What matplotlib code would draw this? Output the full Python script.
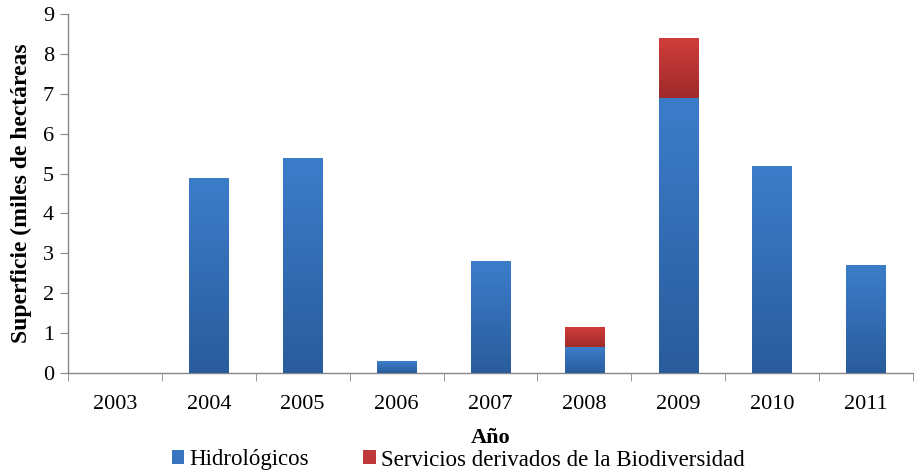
import matplotlib
matplotlib.use("Agg")
import matplotlib.pyplot as plt
import numpy as np
from matplotlib.colors import LinearSegmentedColormap
from matplotlib.patches import Patch

years = ["2003", "2004", "2005", "2006", "2007", "2008", "2009", "2010", "2011"]
hidrologicos = [0.0, 4.9, 5.4, 0.3, 2.8, 0.65, 6.9, 5.2, 2.7]
biodiversidad = [0.0, 0.0, 0.0, 0.0, 0.0, 0.5, 1.5, 0.0, 0.0]
series_names = ["Hidrológicos", "Servicios derivados de la Biodiversidad"]

plt.rcParams['font.family'] = ['Liberation Serif', 'DejaVu Serif']

fig = plt.figure(figsize=(9.16, 4.72), dpi=100)
ax = fig.add_axes([68/916, 99/472, 845/916, 359/472])

x = np.arange(len(years))
w = 0.42
b1 = ax.bar(x, hidrologicos, width=w, color="#3874c0", zorder=2)
b2 = ax.bar(x, biodiversidad, width=w, bottom=hidrologicos, color="#c0393a", zorder=2)

blue_cmap = LinearSegmentedColormap.from_list("b", ["#2a5c9c", "#3c7dca"])
red_cmap = LinearSegmentedColormap.from_list("r", ["#9e2b2a", "#d03d3b"])
grad = np.linspace(0, 1, 256).reshape(-1, 1)
for bars, cmap in ((b1, blue_cmap), (b2, red_cmap)):
    for p in bars:
        h = p.get_height()
        if h <= 0:
            continue
        x0, y0 = p.get_x(), p.get_y()
        im = ax.imshow(grad, cmap=cmap, origin="lower", aspect="auto",
                       extent=[x0, x0 + p.get_width(), y0, y0 + h], zorder=3)
        im.set_clip_path(p)

ax.set_xlim(-0.5, len(years) - 0.5)
ax.set_ylim(0, 9)
ax.set_yticks(range(0, 10))
ax.set_xticks(x)
ax.set_xticklabels(years)
ax.set_xticks(np.arange(-0.5, len(years), 1), minor=True)
ax.tick_params(axis='x', which='major', length=0, labelsize=16, pad=16)
ax.tick_params(axis='x', which='minor', length=6, color="#888888", direction='out')
ax.tick_params(axis='y', labelsize=16, length=6, color="#888888", pad=4)

for s in ("top", "right"):
    ax.spines[s].set_visible(False)
for s in ("left", "bottom"):
    ax.spines[s].set_color("#888888")
    ax.spines[s].set_linewidth(1.0)

ax.set_ylabel("Superficie (miles de hectáreas", fontsize=17, fontweight='bold', labelpad=8)
ax.set_xlabel("Año", fontsize=16, fontweight='bold', labelpad=10)

handles = [Patch(facecolor="#3874c0"), Patch(facecolor="#c0393a")]
fig.legend(handles, series_names, loc="center", bbox_to_anchor=(0.5, 12/472),
           ncol=2, frameon=False, fontsize=16.5, handlelength=0.55, handleheight=0.55,
           handletextpad=0.2, columnspacing=2.4, borderpad=0)

fig.savefig("out.png", dpi=100)
